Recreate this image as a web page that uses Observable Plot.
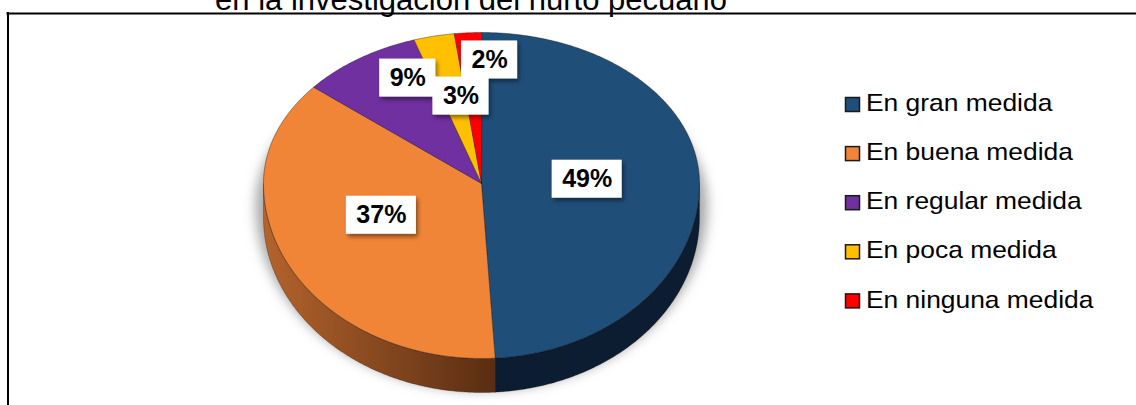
<!DOCTYPE html>
<html>
<head>
<meta charset="utf-8">
<script src="https://cdn.jsdelivr.net/npm/d3@7"></script>
<script src="https://cdn.jsdelivr.net/npm/@observablehq/plot@0.6"></script>
<style>
  html, body { margin: 0; padding: 0; background: #fff; }
  #chart svg { display: block; overflow: hidden; }
</style>
</head>
<body>
<div id="chart"></div>
<script>
// ---------------- DATA ----------------
const title = "en la investigación del hurto pecuario";
const categories = ["En gran medida", "En buena medida", "En regular medida", "En poca medida", "En ninguna medida"];
const values = [49, 37, 9, 3, 2];
const valueLabels = ["49%", "37%", "9%", "3%", "2%"];

// ---------------- STYLE / LAYOUT ----------------
const topColors  = ["#1F4E79", "#F08538", "#7030A0", "#FFC000", "#FF0000"];
const sideColors = ["#0C1D31", "url(#orangeSide)", "#3B1658", "#8A6800", "#8A0000"];
const FONT = "'Liberation Sans', Arial, Helvetica, sans-serif";
const W = 1136, H = 405;
const CX = 481, CY = 183, RX = 218, RT = 151, RB = 175, DEPTH = 34;
// label placement: radial fraction + nudge (Excel "best fit" style)
const labelLayout = [
  {f: 0.485, dx: 0,  dy: -2},
  {f: 0.5,   dx: -3, dy: -8},
  {f: 0.7,   dx: 12, dy: -18},
  {f: 0.6,   dx: 8,  dy: 1},
  {f: 0.8,   dx: 19, dy: -3}
];

// ---------------- GEOMETRY (derived from values) ----------------
function pt(theta, f = 1, dy = 0, cx = CX, cy = CY, rx = RX, rt = RT, rb = RB) {
  const t = theta * Math.PI / 180, c = Math.cos(t), s = Math.sin(t);
  const r = c >= 0 ? rt : rb;
  return [cx + f * rx * s, cy - f * r * c + dy];
}
function arcPts(a0, a1, f = 1, dy = 0) {
  const n = Math.max(2, Math.ceil((a1 - a0) / 0.5));
  const out = [];
  for (let k = 0; k <= n; k++) out.push(pt(a0 + (a1 - a0) * k / n, f, dy));
  return out;
}
const total = d3.sum(values);
let acc = 0;
const slices = values.map((v, i) => {
  const a0 = acc / total * 360; acc += v; const a1 = acc / total * 360;
  return {i, v, a0, a1, mid: (a0 + a1) / 2};
});

// shadow silhouette
const shadowRows = [];
for (let k = 0; k < 360; k += 2) {
  const p = pt(k, 1, 0, CX, CY + 22, RX + 8, RT, RB + 10);
  shadowRows.push({x: p[0], y: p[1]});
}

// side walls (front half, 90..270 deg)
const wallRows = [];
slices.forEach(s => {
  const b0 = Math.max(s.a0, 90), b1 = Math.min(s.a1, 270);
  if (b1 > b0) {
    const poly = [...arcPts(b0, b1), ...arcPts(b0, b1, 1, DEPTH).reverse()];
    poly.forEach(p => wallRows.push({id: s.i, x: p[0], y: p[1], fill: sideColors[s.i]}));
  }
});

// top faces
const topRows = [];
slices.forEach(s => {
  const poly = [[CX, CY], ...arcPts(s.a0, s.a1)];
  poly.forEach(p => topRows.push({id: s.i, x: p[0], y: p[1], fill: topColors[s.i]}));
});

// data labels
const LFS = 25;
function textWidth(str, fs) {
  let w = 0;
  for (const ch of str) w += (ch === "%" ? 0.889 : 0.556) * fs;
  return w;
}
const labelData = slices.map(s => {
  const L = labelLayout[s.i];
  const p = pt(s.mid, L.f);
  const x = p[0] + L.dx, y = p[1] + L.dy;
  const bw = textWidth(valueLabels[s.i], LFS) + 20, bh = 38;
  return {x, y, label: valueLabels[s.i], x1: x - bw / 2, x2: x + bw / 2, y1: y - bh / 2, y2: y + bh / 2};
});

// legend
const legendData = categories.map((c, i) => {
  const yc = 104.5 + i * 49.1;
  return {name: c, fill: topColors[i], x1: 845.5, x2: 859.5, y1: yc - 7, y2: yc + 7, tx: 866, ty: yc - 1};
});

// ---------------- PLOT ----------------
const chart = Plot.plot({
  width: W, height: H,
  margin: 0, marginTop: 0, marginRight: 0, marginBottom: 0, marginLeft: 0,
  x: {domain: [0, W], range: [0, W], axis: null},
  y: {domain: [0, H], range: [0, H], axis: null},
  color: {type: "identity"},
  style: {fontFamily: FONT, background: "#fff", overflow: "hidden"},
  marks: [
    Plot.line(shadowRows, {x: "x", y: "y", curve: "linear-closed", fill: "#8c8c8c", fillOpacity: 0.75, stroke: "none", ariaDescription: "shadow"}),
    Plot.line(wallRows, {x: "x", y: "y", z: "id", fill: "fill", stroke: "#000", strokeOpacity: 0.35, strokeWidth: 0.7, curve: "linear-closed"}),
    Plot.line(topRows, {x: "x", y: "y", z: "id", fill: "fill", stroke: "#111", strokeOpacity: 0.55, strokeWidth: 0.7, curve: "linear-closed"}),
    Plot.rect(labelData, {x1: "x1", x2: "x2", y1: "y1", y2: "y2", fill: "#fff", ariaDescription: "boxes"}),
    Plot.text(labelData, {x: "x", y: "y", text: "label", fontSize: LFS, fontWeight: "bold", fill: "#000"}),
    Plot.rect(legendData, {x1: "x1", x2: "x2", y1: "y1", y2: "y2", fill: "fill", stroke: "#1a1a1a", strokeWidth: 1.5}),
    Plot.text(legendData, {x: "tx", y: "ty", text: "name", textAnchor: "start", fontSize: 24, fill: "#000", ariaDescription: "legendtext"}),
    Plot.ruleY([{y: 13, x1: 6.5, x2: W}], {y: "y", x1: "x1", x2: "x2", stroke: "#000", strokeWidth: 2}),
    Plot.ruleX([{x: 7.5, y1: 12, y2: H}], {x: "x", y1: "y1", y2: "y2", stroke: "#000", strokeWidth: 2}),
    Plot.text([{t: title, x: 470.5, y: 9 - 0.32 * 31}], {x: "x", y: "y", text: "t", fontSize: 31, fill: "#000"})
  ]
});
document.getElementById("chart").appendChild(chart);

// ---------------- POST-STYLING ----------------
const svg = d3.select(chart);
const defs = svg.insert("defs", ":first-child");
const grad = defs.append("linearGradient").attr("id", "orangeSide")
  .attr("gradientUnits", "userSpaceOnUse").attr("x1", 263).attr("x2", 492).attr("y1", 0).attr("y2", 0);
grad.append("stop").attr("offset", 0).attr("stop-color", "#B4632C");
grad.append("stop").attr("offset", 1).attr("stop-color", "#5A2E12");
const blur = defs.append("filter").attr("id", "softShadow")
  .attr("x", "-20%").attr("y", "-20%").attr("width", "140%").attr("height", "140%");
blur.append("feGaussianBlur").attr("stdDeviation", 6);
const ds = defs.append("filter").attr("id", "boxShadow")
  .attr("x", "-30%").attr("y", "-30%").attr("width", "160%").attr("height", "160%");
ds.append("feDropShadow").attr("dx", 2).attr("dy", 3).attr("stdDeviation", 2)
  .attr("flood-color", "#000").attr("flood-opacity", 0.45);

svg.select('g[aria-description="shadow"]').attr("filter", "url(#softShadow)");
svg.select('g[aria-description="boxes"]').attr("filter", "url(#boxShadow)");
svg.select('g[aria-description="legendtext"]').attr("transform", "translate(866,0) scale(1.1,1) translate(-866,0)");
</script>
</body>
</html>
